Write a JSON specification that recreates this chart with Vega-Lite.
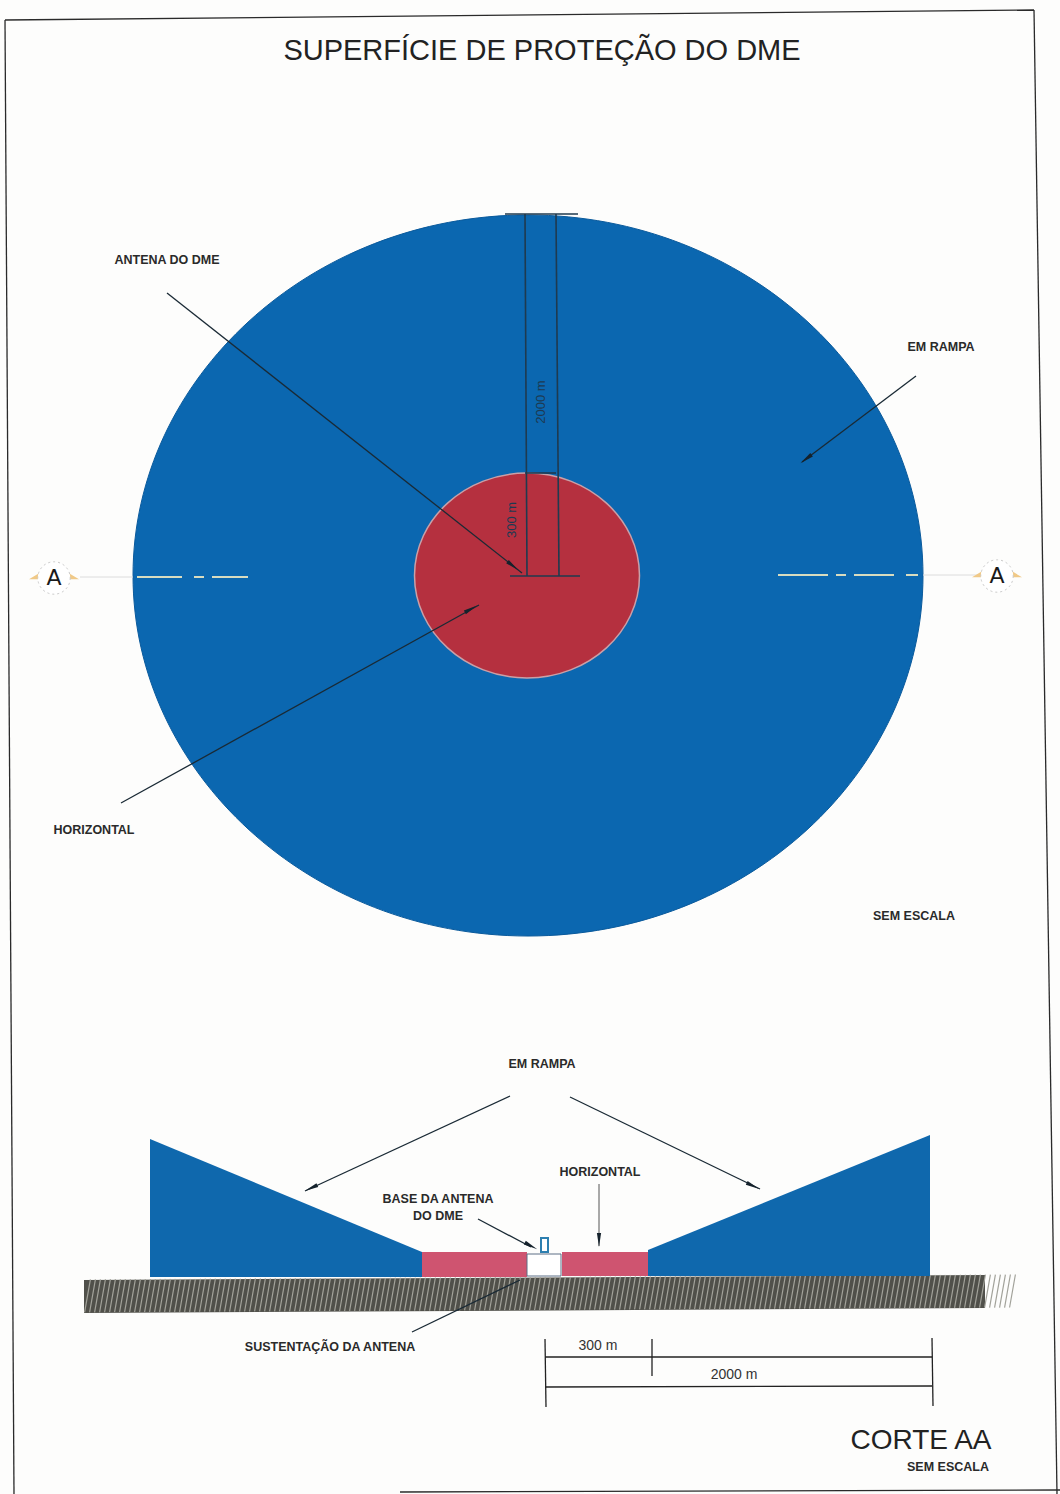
{"$schema":"https://vega.github.io/schema/vega-lite/v6.json","width":1060,"height":1494,"padding":0,"autosize":{"type":"none"},"background":"#fdfdfc","view":{"stroke":null},"datasets":{"discs":[{"x":528,"y":575.5,"zone":"Em rampa"},{"x":527,"y":575.5,"zone":"Horizontal"}],"ramps":[{"part":"left","x":150,"y":1139,"y2":1277},{"part":"left","x":422,"y":1252,"y2":1277},{"part":"right","x":648,"y":1250,"y2":1276},{"part":"right","x":930,"y":1135,"y2":1276}],"flat":[{"part":"left","x":422,"y":1252,"y2":1277},{"part":"left","x":527,"y":1252,"y2":1277},{"part":"right","x":562,"y":1252,"y2":1276},{"part":"right","x":648,"y":1252,"y2":1276}],"ground":[{"x":84,"y":1280,"y2":1313},{"x":985,"y":1275,"y2":1308}],"lines":[{"x":5,"y":20,"x2":1034,"y2":10,"w":"frame"},{"x":5,"y":20,"x2":14,"y2":1494,"w":"frame"},{"x":1034,"y":10,"x2":1057,"y2":1494,"w":"frame"},{"x":400,"y":1492,"x2":1060,"y2":1490,"w":"frame"},{"x":525,"y":214,"x2":527,"y2":576,"w":"dim"},{"x":556,"y":214,"x2":559,"y2":576,"w":"dim"},{"x":505,"y":214,"x2":578,"y2":214,"w":"dim"},{"x":510,"y":576,"x2":580,"y2":576,"w":"dim"},{"x":525,"y":473,"x2":556,"y2":473,"w":"dim"},{"x":167,"y":293,"x2":522,"y2":573,"w":"lead"},{"x":916,"y":376,"x2":802,"y2":462,"w":"lead"},{"x":121,"y":803,"x2":479,"y2":605,"w":"lead"},{"x":510,"y":1096,"x2":305,"y2":1191,"w":"lead"},{"x":570,"y":1097,"x2":760,"y2":1189,"w":"lead"},{"x":478,"y":1219,"x2":531,"y2":1247,"w":"lead"},{"x":599,"y":1184,"x2":599,"y2":1246,"w":"thin"},{"x":412,"y":1332,"x2":520,"y2":1280,"w":"lead"},{"x":545,"y":1357,"x2":932,"y2":1357,"w":"dim2"},{"x":545,"y":1387,"x2":932,"y2":1386,"w":"dim2"},{"x":545,"y":1339,"x2":546,"y2":1407,"w":"dim2"},{"x":652,"y":1339,"x2":652,"y2":1376,"w":"dim2"},{"x":932,"y":1338,"x2":933,"y2":1406,"w":"dim2"}],"heads":[{"x":513,"y":566,"angle":128},{"x":806,"y":459,"angle":233},{"x":471,"y":609,"angle":61},{"x":311,"y":1188,"angle":245},{"x":753,"y":1186,"angle":116},{"x":531,"y":1246,"angle":118},{"x":599,"y":1240,"angle":180}],"axis":[{"x":137,"y":577,"x2":182,"y2":577},{"x":194,"y":577,"x2":204,"y2":577},{"x":212,"y":577,"x2":248,"y2":577},{"x":778,"y":575,"x2":828,"y2":575},{"x":836,"y":575,"x2":846,"y2":575},{"x":854,"y":575,"x2":894,"y2":575},{"x":906,"y":575,"x2":918,"y2":575}],"axisOut":[{"x":80,"y":577,"x2":133,"y2":577},{"x":923,"y":575,"x2":978,"y2":575}],"cut":[{"x":54,"y":578,"angle":0},{"x":997,"y":576,"angle":0}],"labels":[{"x":542,"y":51,"t":"SUPERFÍCIE DE PROTEÇÃO DO DME","k":"title"},{"x":167,"y":260,"t":"ANTENA DO DME","k":"s"},{"x":941,"y":347,"t":"EM RAMPA","k":"s"},{"x":94,"y":830,"t":"HORIZONTAL","k":"s"},{"x":914,"y":916,"t":"SEM ESCALA","k":"s"},{"x":542,"y":1064,"t":"EM RAMPA","k":"s"},{"x":600,"y":1172,"t":"HORIZONTAL","k":"s"},{"x":438,"y":1199,"t":"BASE DA ANTENA","k":"s"},{"x":438,"y":1216,"t":"DO DME","k":"s"},{"x":330,"y":1347,"t":"SUSTENTAÇÃO DA ANTENA","k":"s"},{"x":598,"y":1346,"t":"300 m","k":"d"},{"x":734,"y":1375,"t":"2000 m","k":"d"},{"x":921,"y":1441,"t":"CORTE AA","k":"corte"},{"x":948,"y":1467,"t":"SEM ESCALA","k":"s"},{"x":54,"y":578,"t":"A","k":"a"},{"x":997,"y":576,"t":"A","k":"a"}],"vlabels":[{"x":541,"y":402,"t":"2000 m"},{"x":512,"y":520,"t":"300 m"}]},"encoding":{"x":{"field":"x","type":"quantitative","scale":{"domain":[0,1060],"nice":false,"zero":false},"axis":null},"y":{"field":"y","type":"quantitative","scale":{"domain":[1494,0],"nice":false,"zero":false},"axis":null}},"layer":[{"data":{"name":"discs"},"transform":[{"filter":"datum.zone=='Em rampa'"}],"mark":{"type":"point","filled":true,"opacity":1,"fill":"#0b67b0","stroke":"#0a5a9c","strokeWidth":1,"size":624100,"shape":"M-1,0C-1,-0.5 -0.55,-0.9127 0,-0.9127C0.55,-0.9127 1,-0.5 1,0C1,0.5 0.55,0.9127 0,0.9127C-0.55,0.9127 -1,0.5 -1,0Z"}},{"data":{"name":"discs"},"transform":[{"filter":"datum.zone=='Horizontal'"}],"mark":{"type":"point","filled":true,"opacity":1,"fill":"#b5303f","stroke":"#c9a0a8","strokeWidth":1.5,"size":50625,"shape":"M-1,0C-1,-0.5 -0.55,-0.9111 0,-0.9111C0.55,-0.9111 1,-0.5 1,0C1,0.5 0.55,0.9111 0,0.9111C-0.55,0.9111 -1,0.5 -1,0Z"}},{"data":{"name":"ground"},"mark":{"type":"area","color":"#50504a"},"encoding":{"y2":{"field":"y2"}}},{"data":{"values":[{"x":534.5,"y":1294}]},"mark":{"type":"point","filled":false,"opacity":1,"stroke":"#a2a29a","strokeWidth":1.2,"size":4,"angle":359.7,"shape":"M-450,16l6,-33m-1,33l6,-33m-1,33l6,-33m-1,33l6,-33m-1,33l6,-33m-1,33l6,-33m-1,33l6,-33m-1,33l6,-33m-1,33l6,-33m-1,33l6,-33m-1,33l6,-33m-1,33l6,-33m-1,33l6,-33m-1,33l6,-33m-1,33l6,-33m-1,33l6,-33m-1,33l6,-33m-1,33l6,-33m-1,33l6,-33m-1,33l6,-33m-1,33l6,-33m-1,33l6,-33m-1,33l6,-33m-1,33l6,-33m-1,33l6,-33m-1,33l6,-33m-1,33l6,-33m-1,33l6,-33m-1,33l6,-33m-1,33l6,-33m-1,33l6,-33m-1,33l6,-33m-1,33l6,-33m-1,33l6,-33m-1,33l6,-33m-1,33l6,-33m-1,33l6,-33m-1,33l6,-33m-1,33l6,-33m-1,33l6,-33m-1,33l6,-33m-1,33l6,-33m-1,33l6,-33m-1,33l6,-33m-1,33l6,-33m-1,33l6,-33m-1,33l6,-33m-1,33l6,-33m-1,33l6,-33m-1,33l6,-33m-1,33l6,-33m-1,33l6,-33m-1,33l6,-33m-1,33l6,-33m-1,33l6,-33m-1,33l6,-33m-1,33l6,-33m-1,33l6,-33m-1,33l6,-33m-1,33l6,-33m-1,33l6,-33m-1,33l6,-33m-1,33l6,-33m-1,33l6,-33m-1,33l6,-33m-1,33l6,-33m-1,33l6,-33m-1,33l6,-33m-1,33l6,-33m-1,33l6,-33m-1,33l6,-33m-1,33l6,-33m-1,33l6,-33m-1,33l6,-33m-1,33l6,-33m-1,33l6,-33m-1,33l6,-33m-1,33l6,-33m-1,33l6,-33m-1,33l6,-33m-1,33l6,-33m-1,33l6,-33m-1,33l6,-33m-1,33l6,-33m-1,33l6,-33m-1,33l6,-33m-1,33l6,-33m-1,33l6,-33m-1,33l6,-33m-1,33l6,-33m-1,33l6,-33m-1,33l6,-33m-1,33l6,-33m-1,33l6,-33m-1,33l6,-33m-1,33l6,-33m-1,33l6,-33m-1,33l6,-33m-1,33l6,-33m-1,33l6,-33m-1,33l6,-33m-1,33l6,-33m-1,33l6,-33m-1,33l6,-33m-1,33l6,-33m-1,33l6,-33m-1,33l6,-33m-1,33l6,-33m-1,33l6,-33m-1,33l6,-33m-1,33l6,-33m-1,33l6,-33m-1,33l6,-33m-1,33l6,-33m-1,33l6,-33m-1,33l6,-33m-1,33l6,-33m-1,33l6,-33m-1,33l6,-33m-1,33l6,-33m-1,33l6,-33m-1,33l6,-33m-1,33l6,-33m-1,33l6,-33m-1,33l6,-33m-1,33l6,-33m-1,33l6,-33m-1,33l6,-33m-1,33l6,-33m-1,33l6,-33m-1,33l6,-33m-1,33l6,-33m-1,33l6,-33m-1,33l6,-33m-1,33l6,-33m-1,33l6,-33m-1,33l6,-33m-1,33l6,-33m-1,33l6,-33m-1,33l6,-33m-1,33l6,-33m-1,33l6,-33m-1,33l6,-33m-1,33l6,-33m-1,33l6,-33m-1,33l6,-33m-1,33l6,-33m-1,33l6,-33m-1,33l6,-33m-1,33l6,-33m-1,33l6,-33m-1,33l6,-33m-1,33l6,-33m-1,33l6,-33m-1,33l6,-33m-1,33l6,-33m-1,33l6,-33m-1,33l6,-33m-1,33l6,-33m-1,33l6,-33m-1,33l6,-33m-1,33l6,-33m-1,33l6,-33m-1,33l6,-33m-1,33l6,-33m-1,33l6,-33m-1,33l6,-33m-1,33l6,-33m-1,33l6,-33m-1,33l6,-33m-1,33l6,-33m-1,33l6,-33m-1,33l6,-33m-1,33l6,-33m-1,33l6,-33m-1,33l6,-33m-1,33l6,-33m-1,33l6,-33m-1,33l6,-33m-1,33l6,-33m-1,33l6,-33m-1,33l6,-33m-1,33l6,-33m-1,33l6,-33m-1,33l6,-33m-1,33l6,-33"}},{"data":{"name":"ramps"},"mark":{"type":"area","color":"#0f68ad"},"encoding":{"y2":{"field":"y2"},"detail":{"field":"part"}}},{"data":{"name":"flat"},"mark":{"type":"area","color":"#cf5470"},"encoding":{"y2":{"field":"y2"},"detail":{"field":"part"}}},{"data":{"values":[{"x":527,"y":1254,"x2":561,"y2":1276}]},"mark":{"type":"rect","fill":"#ffffff","stroke":"#5c6f86","strokeWidth":1},"encoding":{"x2":{"field":"x2"},"y2":{"field":"y2"}}},{"data":{"values":[{"x":541,"y":1238,"x2":548,"y2":1252}]},"mark":{"type":"rect","fill":"#ffffff","stroke":"#2d7fb0","strokeWidth":2},"encoding":{"x2":{"field":"x2"},"y2":{"field":"y2"}}},{"data":{"name":"axis"},"mark":{"type":"rule","stroke":"#d8dcc0","strokeWidth":2},"encoding":{"x2":{"field":"x2"},"y2":{"field":"y2"}}},{"data":{"name":"axisOut"},"mark":{"type":"rule","stroke":"#dcdcdc","strokeWidth":1},"encoding":{"x2":{"field":"x2"},"y2":{"field":"y2"}}},{"data":{"name":"lines"},"transform":[{"filter":"datum.w=='frame'"}],"mark":{"type":"rule","stroke":"#2a2a2a","strokeWidth":1.3},"encoding":{"x2":{"field":"x2"},"y2":{"field":"y2"}}},{"data":{"name":"lines"},"transform":[{"filter":"datum.w=='dim'"}],"mark":{"type":"rule","stroke":"#1f3a4f","strokeWidth":1.6},"encoding":{"x2":{"field":"x2"},"y2":{"field":"y2"}}},{"data":{"name":"lines"},"transform":[{"filter":"datum.w=='dim2'"}],"mark":{"type":"rule","stroke":"#222222","strokeWidth":1.3},"encoding":{"x2":{"field":"x2"},"y2":{"field":"y2"}}},{"data":{"name":"lines"},"transform":[{"filter":"datum.w=='lead'"}],"mark":{"type":"rule","stroke":"#1a2a35","strokeWidth":1.3},"encoding":{"x2":{"field":"x2"},"y2":{"field":"y2"}}},{"data":{"name":"lines"},"transform":[{"filter":"datum.w=='thin'"}],"mark":{"type":"rule","stroke":"#555555","strokeWidth":1},"encoding":{"x2":{"field":"x2"},"y2":{"field":"y2"}}},{"data":{"name":"heads"},"mark":{"type":"point","filled":true,"opacity":1,"fill":"#15222c","stroke":null,"size":196,"shape":"M0,-1L0.3,1L-0.3,1Z"},"encoding":{"angle":{"field":"angle","type":"quantitative","scale":null}}},{"data":{"name":"cut"},"mark":{"type":"point","filled":true,"opacity":1,"fill":"#f0c987","stroke":null,"size":2500,"shape":"M-1,0.05L0,-0.55L1,0.05L0.6,0.05L0,-0.25L-0.6,0.05Z"}},{"data":{"name":"cut"},"mark":{"type":"point","filled":true,"opacity":1,"fill":"#ffffff","stroke":"#c8c8c8","strokeWidth":1,"strokeDash":[2,3],"size":1050}},{"data":{"name":"labels"},"transform":[{"filter":"datum.k=='title'"}],"mark":{"type":"text","font":"Liberation Sans","fontSize":29,"fill":"#222222","align":"center","baseline":"middle"},"encoding":{"text":{"field":"t"}}},{"data":{"name":"labels"},"transform":[{"filter":"datum.k=='corte'"}],"mark":{"type":"text","font":"Liberation Sans","fontSize":28,"fill":"#222222","align":"center","baseline":"middle"},"encoding":{"text":{"field":"t"}}},{"data":{"name":"labels"},"transform":[{"filter":"datum.k=='a'"}],"mark":{"type":"text","font":"DejaVu Sans","fontSize":22,"fill":"#1a1a1a","align":"center","baseline":"middle"},"encoding":{"text":{"field":"t"}}},{"data":{"name":"labels"},"transform":[{"filter":"datum.k=='s'"}],"mark":{"type":"text","font":"Liberation Sans","fontSize":12.5,"fontWeight":"bold","fill":"#2a2a2a","align":"center","baseline":"middle"},"encoding":{"text":{"field":"t"}}},{"data":{"name":"labels"},"transform":[{"filter":"datum.k=='d'"}],"mark":{"type":"text","font":"Liberation Sans","fontSize":14,"fill":"#333333","align":"center","baseline":"middle"},"encoding":{"text":{"field":"t"}}},{"data":{"name":"vlabels"},"mark":{"type":"text","font":"Liberation Sans","fontSize":13,"fill":"#1d3a52","angle":270,"align":"center","baseline":"middle"},"encoding":{"text":{"field":"t"}}}]}
